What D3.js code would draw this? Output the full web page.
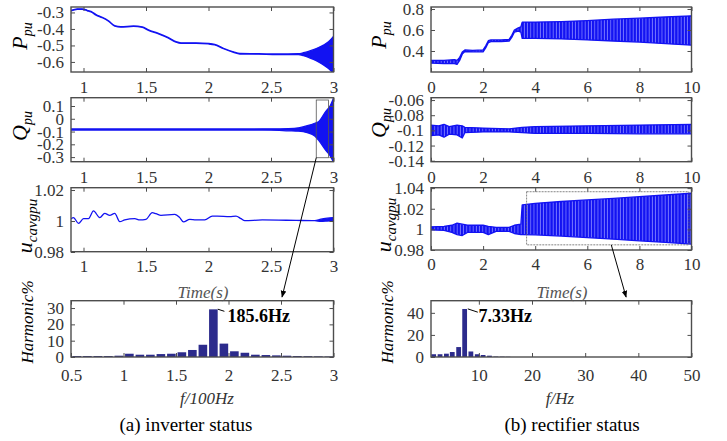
<!DOCTYPE html>
<html>
<head>
<meta charset="utf-8">
<script src="https://cdn.jsdelivr.net/npm/d3@7/dist/d3.min.js"></script>
<style>
  body { margin: 0; background: #fff; }
  svg, svg text { font-family: "Liberation Serif", "Times New Roman", serif; }
</style>
</head>
<body>
<div id="chart"></div>
<script>
// ---- time axes ----
const tLeftDomain = [0.9, 3];
const tRightDomain = [0, 10];
const tLeftTicks = [1, 1.5, 2, 2.5, 3];
const tRightTicks = [0, 2, 4, 6, 8, 10];

// ---- inverter (left) envelopes: [t, low, high] ----
const invP = [[0.90,-0.291,-0.288],[0.95,-0.281,-0.278],[0.99,-0.281,-0.278],[1.03,-0.290,-0.287],[1.06,-0.297,-0.294],
  [1.10,-0.316,-0.313],[1.15,-0.332,-0.329],[1.20,-0.353,-0.350],[1.25,-0.383,-0.380],[1.30,-0.389,-0.386],
  [1.40,-0.385,-0.382],[1.47,-0.390,-0.387],[1.52,-0.409,-0.406],[1.60,-0.430,-0.427],[1.68,-0.456,-0.453],
  [1.74,-0.480,-0.477],[1.78,-0.487,-0.484],[1.90,-0.487,-0.484],[2.00,-0.491,-0.488],[2.05,-0.497,-0.494],
  [2.12,-0.520,-0.517],[2.20,-0.542,-0.539],[2.25,-0.552,-0.549],[2.40,-0.553,-0.550],[2.55,-0.555,-0.552],
  [2.72,-0.555,-0.550],[2.76,-0.562,-0.544],[2.80,-0.572,-0.536],[2.84,-0.585,-0.526],[2.88,-0.600,-0.513],
  [2.92,-0.618,-0.498],[2.96,-0.640,-0.478],[3.00,-0.670,-0.445]];
const invQ = [[0.90,-0.088,-0.080],[1.50,-0.088,-0.080],[2.00,-0.088,-0.080],[2.50,-0.089,-0.079],[2.64,-0.094,-0.077],
  [2.72,-0.097,-0.071],[2.79,-0.109,-0.054],[2.85,-0.135,-0.035],[2.88,-0.167,-0.023],[2.94,-0.250,0.060],
  [2.97,-0.285,0.095],[3.00,-0.340,0.160]];
const invU = [[0.90,1.0015,1.0015],[0.92,1.0022,1.0022],[0.96,0.9985,0.9985],[1.00,1.0015,1.0015],[1.04,1.0015,1.0015],
  [1.08,1.0065,1.0065],[1.13,1.0022,1.0022],[1.17,1.0049,1.0049],[1.21,1.0037,1.0037],[1.25,1.0049,1.0049],
  [1.29,0.9996,0.9996],[1.33,1.0007,1.0007],[1.41,1.0015,1.0015],[1.45,1.0007,1.0007],[1.50,1.0011,1.0011],
  [1.55,1.0054,1.0054],[1.58,1.0047,1.0047],[1.62,1.0037,1.0037],[1.73,1.0043,1.0043],[1.77,1.0022,1.0022],
  [1.80,0.9994,0.9994],[1.85,1.0011,1.0011],[1.90,1.0007,1.0007],[1.97,1.0007,1.0007],[2.03,1.0032,1.0032],
  [2.07,1.0032,1.0032],[2.17,1.0028,1.0028],[2.22,1.0032,1.0032],[2.26,1.0015,1.0015],[2.29,1.0002,1.0002],
  [2.43,1.0007,1.0007],[2.70,1.0004,1.0004],[2.85,1.0002,1.0002],[2.90,0.9998,1.0012],[2.95,1.0000,1.0018],
  [3.00,1.0002,1.0022]];

// ---- rectifier (right) envelopes: [t, low, high] ----
const recP = [[0,0.285,0.310],[0.5,0.280,0.310],[0.9,0.280,0.318],[1.0,0.272,0.310],[1.1,0.310,0.340],
  [1.2,0.370,0.390],[1.3,0.395,0.410],[1.6,0.392,0.405],[2.0,0.392,0.410],[2.1,0.430,0.450],[2.2,0.480,0.498],
  [2.3,0.490,0.505],[2.7,0.490,0.505],[3.0,0.495,0.510],[3.1,0.530,0.550],[3.2,0.580,0.600],[3.35,0.590,0.620],
  [3.45,0.580,0.630],[3.5,0.520,0.675],[4,0.520,0.675],[5,0.515,0.680],[6,0.505,0.690],[7,0.495,0.703],
  [8,0.485,0.713],[9,0.470,0.724],[10,0.455,0.735]];
const recQ = [[0,-0.107,-0.093],[0.3,-0.106,-0.094],[0.5,-0.109,-0.092],[0.7,-0.105,-0.095],[1.0,-0.106,-0.093],
  [1.2,-0.110,-0.094],[1.3,-0.103,-0.096],[2.0,-0.102,-0.097],[3.0,-0.102,-0.098],[3.5,-0.103,-0.096],
  [4,-0.104,-0.095],[6,-0.104,-0.094],[8,-0.1045,-0.093],[10,-0.1045,-0.092]];
const recU = [[0,0.9995,1.0025],[0.5,0.999,1.003],[0.8,0.997,1.004],[1.0,0.995,1.006],[1.2,0.994,1.005],
  [1.4,0.997,1.004],[2.0,0.997,1.004],[2.2,0.995,1.003],[2.5,0.998,1.002],[3.0,0.998,1.002],[3.2,0.996,1.004],
  [3.45,0.995,1.005],[3.5,0.995,1.0237],[4,0.9947,1.0253],[5,0.9935,1.027],[6,0.992,1.0285],[7,0.9905,1.030],
  [8,0.9889,1.0317],[9,0.9873,1.0333],[10,0.9857,1.035]];

// ---- harmonic spectra ----
const invFreq = d3.range(25).map(k => 0.556 + 0.1 * k); // bin centres, f/100Hz
const invHarm = [0.6,0.6,0.6,0.6,0.8,2.0,1.4,1.4,1.8,2.0,2.9,4.3,7.5,29.2,8.2,3.5,2.6,1.4,1.2,1.0,0.8,0.6,0.5,0.4,0.3];
const recFreq = [1.5,2.7,3.9,5.0,6.2,7.33,8.5,9.7,10.8,12.0,13.2,14.4,15.5];
const recHarm = [2.5,2.5,3.0,4.5,9.0,43.5,5.0,2.5,1.8,1.2,0.4,0.3,0.2];

// ---- tick values ----
const invPTicks = [-0.6, -0.5, -0.4, -0.3];
const invQTicks = [-0.3, -0.2, -0.1, 0, 0.1];
const invUTicks = [0.98, 1, 1.02];
const invHTicks = [0, 10, 20, 30];
const invFTicks = [0.5, 1, 1.5, 2, 2.5, 3];
const recPTicks = [0.4, 0.6, 0.8];
const recQTicks = [-0.14, -0.12, -0.1, -0.08, -0.06];
const recUTicks = [0.98, 1, 1.02, 1.04];
const recHTicks = [0, 20, 40];
const recFTicks = [10, 20, 30, 40, 50];

// zoom boxes [t0, t1, v0, v1] and peak labels
const invBox = [2.862, 2.96, -0.305, 0.147];
const recBox = [3.67, 9.9, 0.985, 1.0365];
const invPeak = { line: [[1.898, 29.3], [1.961, 28.0]], at: [1.99, 21.3], text: "185.6Hz" };
const recPeak = { line: [[7.92, 43.6], [9.8, 40.6]], at: [9.93, 32.1], text: "7.33Hz" };

// ---------------------------------------------------------------
const width = 727, height = 441;
const blue = "#1212f2";
const barColor = "#2c2b8c";
const frameColor = "#4d4d4d";
const serif = '"Liberation Serif", "Times New Roman", serif';

const svg = d3.select("#chart").append("svg")
  .attr("width", width)
  .attr("height", height)
  .style("background", "#fff");
const defs = svg.append("defs");

// stripe fill for the dense oscillation bands
const pat = defs.append("pattern").attr("id", "stripes")
  .attr("patternUnits", "userSpaceOnUse").attr("width", 3.2).attr("height", 10);
pat.append("rect").attr("width", 3.2).attr("height", 10).attr("fill", "#7a7aff");
pat.append("rect").attr("width", 2.3).attr("height", 10).attr("fill", blue);

const marker = defs.append("marker").attr("id", "head")
  .attr("viewBox", "0 0 10 10").attr("refX", 9).attr("refY", 5)
  .attr("markerWidth", 7).attr("markerHeight", 7).attr("orient", "auto-start-reverse");
marker.append("path").attr("d", "M0,1 L10,5 L0,9 z").attr("fill", "#000");

const colL = [71, 333.5], colR = [431, 691.5];
const rows = [[7, 72], [97.7, 161.7], [187.7, 251.7], [300.7, 357]];
const fmt = d => String(d);
let clipCount = 0;

function styleAxis(sel) {
  sel.select(".domain").remove();
  sel.selectAll(".tick line").attr("stroke", frameColor).attr("stroke-width", 1);
  sel.selectAll(".tick text")
    .style("font-family", serif)
    .style("font-size", "17px")
    .attr("fill", "#333");
}

function panel(p) {
  const x = d3.scaleLinear().domain(p.xDomain).range([p.col[0], p.col[1]]);
  const y = d3.scaleLinear().domain(p.yDomain).range([p.row[1], p.row[0]]);
  const g = svg.append("g");
  const w = p.col[1] - p.col[0], h = p.row[1] - p.row[0];

  g.append("rect").attr("x", p.col[0]).attr("y", p.row[0])
    .attr("width", w).attr("height", h).attr("fill", "#fff");

  const id = "clip" + (clipCount++);
  defs.append("clipPath").attr("id", id).append("rect")
    .attr("x", p.col[0]).attr("y", p.row[0]).attr("width", w).attr("height", h);
  const plot = g.append("g").attr("clip-path", `url(#${id})`);
  p.draw(plot, x, y);

  // ticks on all four sides, pointing inwards
  g.append("g").attr("transform", `translate(0,${p.row[1]})`)
    .call(d3.axisBottom(x).tickValues(p.xTicks).tickFormat(fmt)
      .tickSizeInner(-4).tickSizeOuter(0).tickPadding(p.xPad))
    .call(styleAxis);
  g.append("g").attr("transform", `translate(0,${p.row[0]})`)
    .call(d3.axisTop(x).tickValues(p.xTicks).tickFormat("").tickSizeInner(-4).tickSizeOuter(0))
    .call(styleAxis);
  g.append("g").attr("transform", `translate(${p.col[0]},0)`)
    .call(d3.axisLeft(y).tickValues(p.yTicks).tickFormat(fmt)
      .tickSizeInner(-4).tickSizeOuter(0).tickPadding(7))
    .call(styleAxis);
  g.append("g").attr("transform", `translate(${p.col[1]},0)`)
    .call(d3.axisRight(y).tickValues(p.yTicks).tickFormat("").tickSizeInner(-4).tickSizeOuter(0))
    .call(styleAxis);

  g.append("rect").attr("x", p.col[0]).attr("y", p.row[0])
    .attr("width", w).attr("height", h)
    .attr("fill", "none").attr("stroke", frameColor).attr("stroke-width", 1.4);
  return { x, y };
}

function band(data, fill, curve) {
  return (plot, x, y) => {
    const area = d3.area().x(d => x(d[0])).y0(d => y(d[1])).y1(d => y(d[2]))
      .curve(curve || d3.curveLinear);
    plot.append("path").datum(data).attr("d", area)
      .attr("fill", fill).attr("stroke", blue).attr("stroke-width", 1.3)
      .attr("stroke-linejoin", "round");
  };
}

function bars(freq, vals, bw) {
  return (plot, x, y) => {
    plot.selectAll("rect.bar").data(vals).enter().append("rect")
      .attr("class", "bar")
      .attr("x", (d, i) => x(freq[i] - bw / 2))
      .attr("width", (d, i) => x(freq[i] + bw / 2) - x(freq[i] - bw / 2))
      .attr("y", d => y(d))
      .attr("height", d => y(0) - y(d))
      .attr("fill", barColor);
  };
}

// ---- left column: inverter ----
const lP = panel({ col: colL, row: rows[0], xDomain: tLeftDomain, yDomain: [-0.661, -0.267],
  xTicks: tLeftTicks, yTicks: invPTicks, xPad: 9, draw: band(invP, blue, d3.curveMonotoneX) });
const lQ = panel({ col: colL, row: rows[1], xDomain: tLeftDomain, yDomain: [-0.336, 0.165],
  xTicks: tLeftTicks, yTicks: invQTicks, xPad: 9, draw: band(invQ, blue, d3.curveMonotoneX) });
const lU = panel({ col: colL, row: rows[2], xDomain: tLeftDomain, yDomain: [0.9802, 1.0215],
  xTicks: tLeftTicks, yTicks: invUTicks, xPad: 8, draw: band(invU, blue, d3.curveMonotoneX) });
const lH = panel({ col: colL, row: rows[3], xDomain: [0.5, 3], yDomain: [0, 34.5],
  xTicks: invFTicks, yTicks: invHTicks, xPad: 12, draw: bars(invFreq, invHarm, 0.082) });

// ---- right column: rectifier ----
const rP = panel({ col: colR, row: rows[0], xDomain: tRightDomain, yDomain: [0.2, 0.819],
  xTicks: tRightTicks, yTicks: recPTicks, xPad: 9, draw: band(recP, "url(#stripes)") });
const rQ = panel({ col: colR, row: rows[1], xDomain: tRightDomain, yDomain: [-0.1413, -0.0569],
  xTicks: tRightTicks, yTicks: recQTicks, xPad: 9, draw: band(recQ, "url(#stripes)") });
const rU = panel({ col: colR, row: [187.7, 250], xDomain: tRightDomain, yDomain: [0.98, 1.0404],
  xTicks: tRightTicks, yTicks: recUTicks, xPad: 8, draw: band(recU, "url(#stripes)") });
const rH = panel({ col: colR, row: rows[3], xDomain: [1, 50], yDomain: [0, 51],
  xTicks: recFTicks, yTicks: recHTicks, xPad: 12, draw: bars(recFreq, recHarm, 0.9) });

// ---- zoom boxes ----
svg.append("rect")
  .attr("x", lQ.x(invBox[0])).attr("y", lQ.y(invBox[3]))
  .attr("width", lQ.x(invBox[1]) - lQ.x(invBox[0]))
  .attr("height", lQ.y(invBox[2]) - lQ.y(invBox[3]))
  .attr("fill", "none").attr("stroke", "#555").attr("stroke-width", 0.8);
svg.append("rect")
  .attr("x", rU.x(recBox[0])).attr("y", rU.y(recBox[3]))
  .attr("width", rU.x(recBox[1]) - rU.x(recBox[0]))
  .attr("height", rU.y(recBox[2]) - rU.y(recBox[3]))
  .attr("fill", "none").attr("stroke", "#666").attr("stroke-width", 0.8)
  .attr("stroke-dasharray", "2,1");

// ---- arrows from boxes to spectra ----
const arrows = [
  [[lQ.x(invBox[0]), lQ.y(invBox[2])], [lH.x(2.51), lH.y(36.8)]],
  [[rU.x(6.92), rU.y(recBox[2])], [rH.x(37.7), rH.y(54.3)]]
];
arrows.forEach(a => {
  svg.append("line")
    .attr("x1", a[0][0]).attr("y1", a[0][1]).attr("x2", a[1][0]).attr("y2", a[1][1])
    .attr("stroke", "#000").attr("stroke-width", 1)
    .attr("marker-end", "url(#head)");
});

// ---- peak labels ----
[[lH, invPeak], [rH, recPeak]].forEach(([s, pk]) => {
  svg.append("line")
    .attr("x1", s.x(pk.line[0][0])).attr("y1", s.y(pk.line[0][1]))
    .attr("x2", s.x(pk.line[1][0])).attr("y2", s.y(pk.line[1][1]))
    .attr("stroke", "#000").attr("stroke-width", 1);
  svg.append("text")
    .attr("x", s.x(pk.at[0])).attr("y", s.y(pk.at[1]))
    .style("font-size", "18px").style("font-weight", "bold")
    .text(pk.text);
});

// ---- axis titles ----
function yTitle(x, yc, main, sub, mainSize, subSize) {
  const t = svg.append("text")
    .attr("transform", `translate(${x},${yc}) rotate(-90)`)
    .attr("text-anchor", "middle")
    .style("font-style", "italic");
  t.append("tspan").style("font-size", mainSize + "px").text(main);
  t.append("tspan").attr("dy", 5).style("font-size", subSize + "px").text(sub);
}
yTitle(27, 36, "P", "pu", 22, 14);
yTitle(27, 126, "Q", "pu", 22, 14);
yTitle(32, 226, "u", "cavgpu", 22, 15);
yTitle(386, 35, "P", "pu", 22, 14);
yTitle(386, 123, "Q", "pu", 22, 14);
yTitle(391, 225, "u", "cavgpu", 22, 15);

function plainTitle(x, y, txt, opts) {
  const t = svg.append("text").attr("x", x).attr("y", y)
    .attr("text-anchor", "middle").style("font-size", (opts.size || 17) + "px")
    .style("fill", opts.color || "#000").text(txt);
  if (opts.italic) t.style("font-style", "italic");
  if (opts.rotate) t.attr("transform", `rotate(-90,${x},${y})`);
  return t;
}
plainTitle(33, 322, "Harmonic%", { italic: true, rotate: true });
plainTitle(393, 322, "Harmonic%", { italic: true, rotate: true });
plainTitle(203, 298, "Time(s)", { italic: true, color: "#555" });
plainTitle(562, 298, "Time(s)", { italic: true, color: "#555" });
plainTitle(207, 404, "f/100Hz", { italic: true, color: "#333" });
plainTitle(560, 404, "f/Hz", { italic: true, color: "#333" });
plainTitle(186, 431, "(a) inverter status", { size: 19 });
plainTitle(572, 431, "(b) rectifier status", { size: 19 });
</script>
</body>
</html>
